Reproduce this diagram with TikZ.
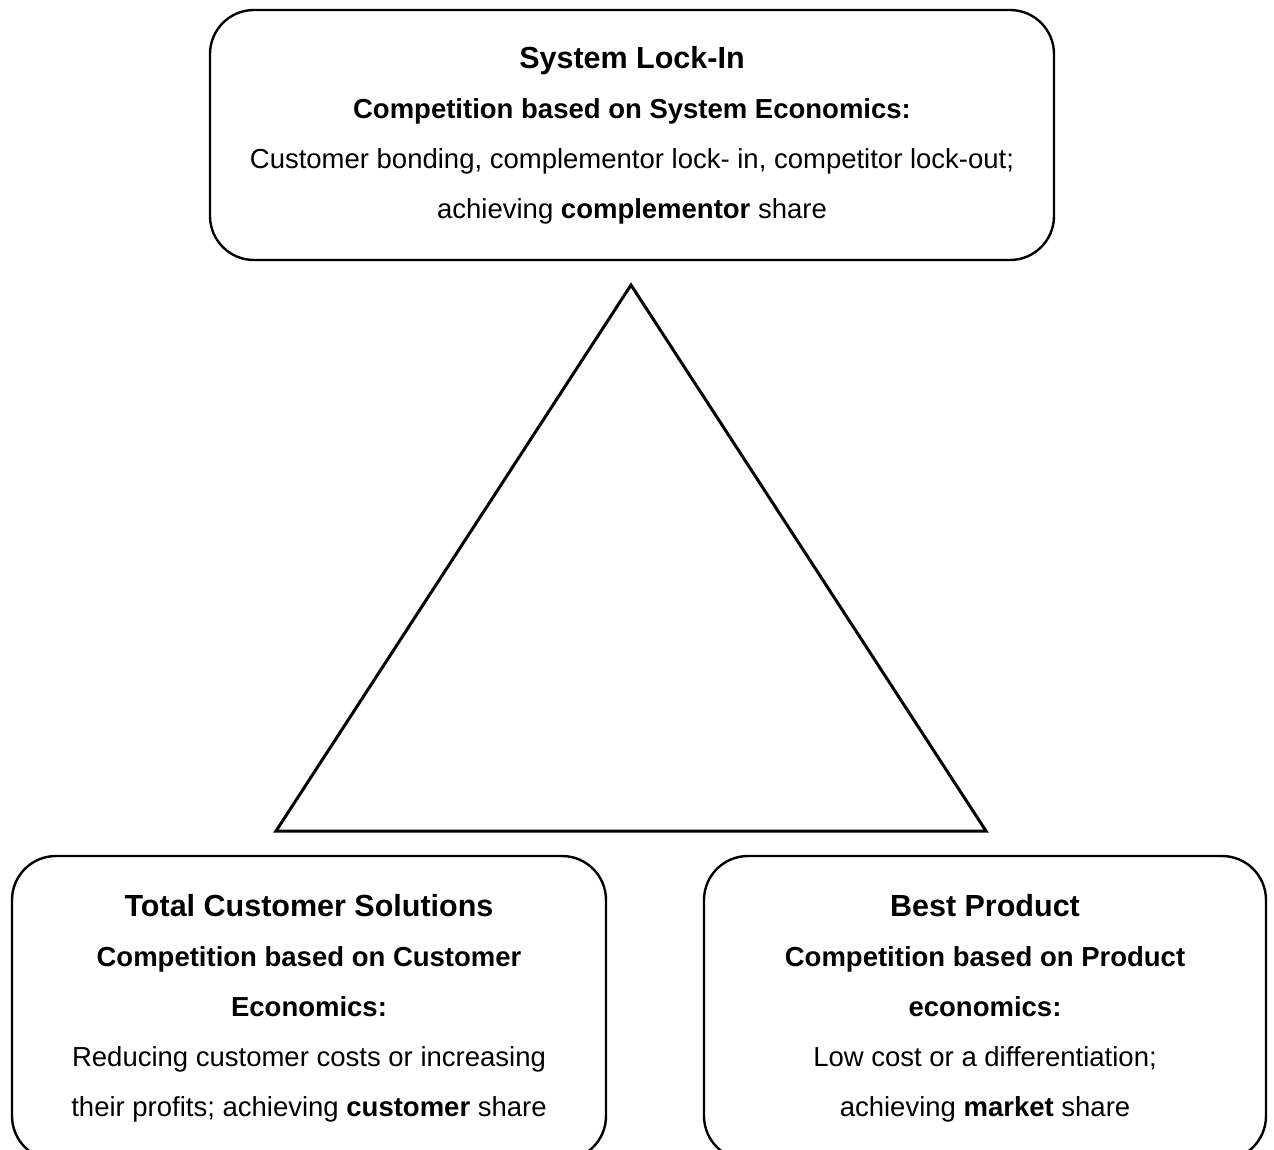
\documentclass[tikz,border=0pt]{standalone}
\usepackage{fontspec}
\setmainfont{Liberation Sans}
\begin{document}
\begin{tikzpicture}[x=1pt,y=-1pt,
  box/.style={draw, line width=2.4pt, rounded corners=44pt, align=center,
    inner sep=0pt, font=\fontsize{27.5}{50}\selectfont},
  tri/.style={draw, line width=3pt, line join=miter}]
  \newcommand{\heading}[1]{{\fontsize{30.5}{50}\selectfont\textbf{#1}}}
  \useasboundingbox (0,0) rectangle (1274,1150);
  \clip (0,0) rectangle (1274,1150);

  % the three competitive positions
  \node[box, minimum width=844pt, minimum height=250pt] (lockin) at (632,135)
    {\heading{System Lock-In}\\
     \textbf{Competition based on System Economics:}\\
     Customer bonding, complementor lock- in, competitor lock-out;\\
     achieving \textbf{complementor} share};

  \node[box, minimum width=594pt, minimum height=304pt] (solutions) at (309,1008)
    {\heading{Total Customer Solutions}\\
     \textbf{Competition based on Customer}\\
     \textbf{Economics:}\\
     Reducing customer costs or increasing\\
     their profits; achieving \textbf{customer} share};

  \node[box, minimum width=562pt, minimum height=304pt] (product) at (985,1008)
    {\heading{Best Product}\\
     \textbf{Competition based on Product}\\
     \textbf{economics:}\\
     Low cost or a differentiation;\\
     achieving \textbf{market} share};

  % the strategy triangle between them
  \coordinate (apex) at (631,285);
  \coordinate (left) at (276,831);
  \coordinate (right) at (986,831);
  \draw[tri] (apex) -- (left) -- (right) -- cycle;
\end{tikzpicture}
\end{document}
